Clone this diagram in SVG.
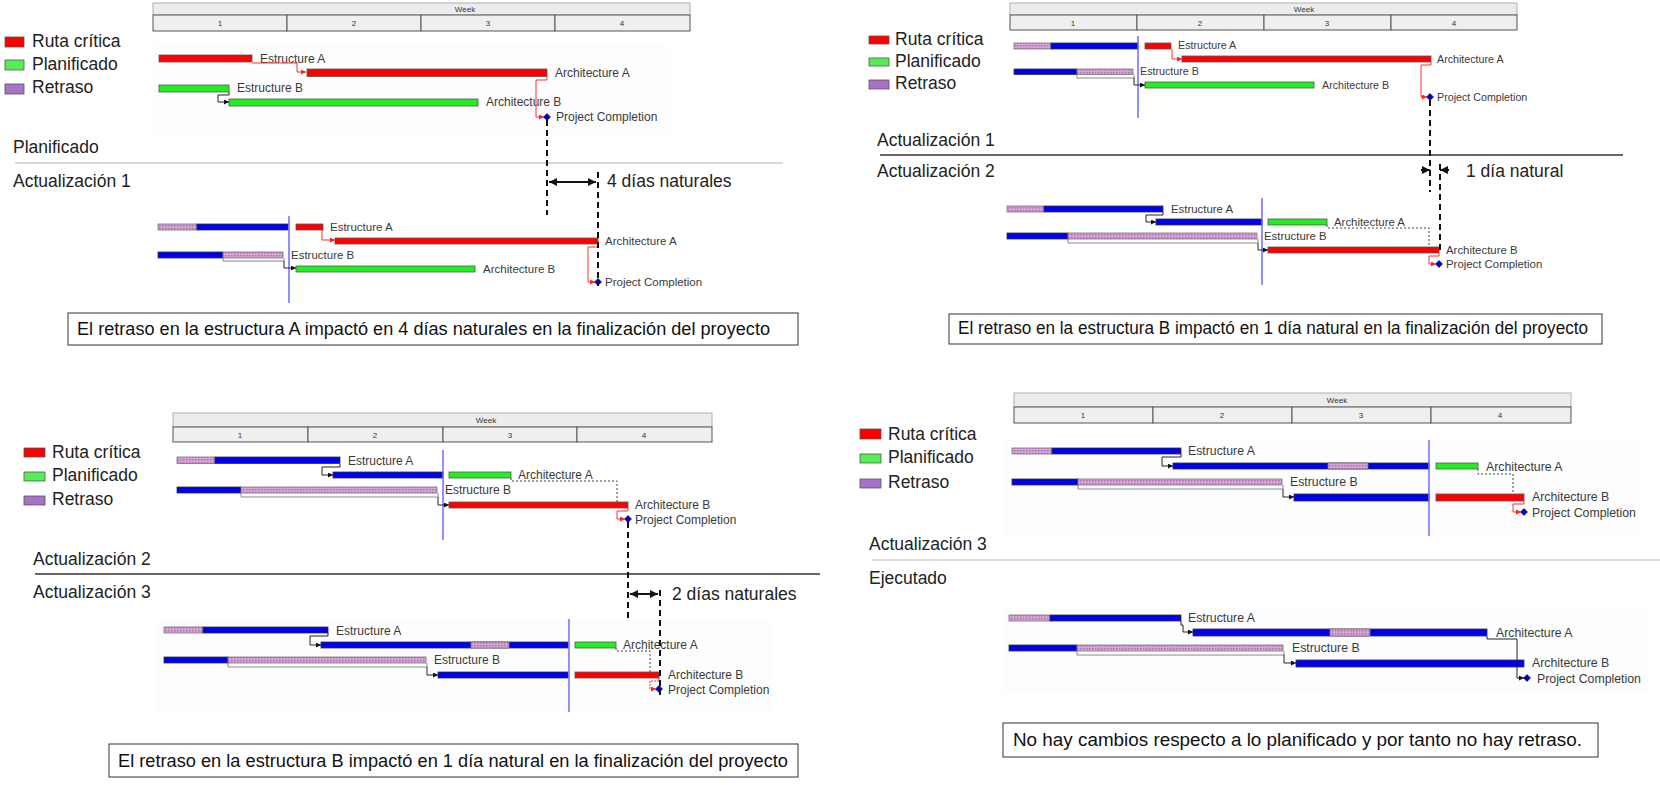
<svg xmlns="http://www.w3.org/2000/svg" width="1660" height="785" viewBox="0 0 1660 785">
<defs>
<style>
.band{fill:#ececec;stroke:#b0b0b0;stroke-width:1}
.cell{fill:#efefef;stroke:#555;stroke-width:1}
.ht{font-family:"Liberation Sans",Arial,sans-serif;font-size:8px;fill:#333;text-anchor:middle}
.br{fill:#ff0000;stroke:#555;stroke-width:0.8}
.bg{fill:#22ee22;stroke:#555;stroke-width:0.8}
.bb{fill:#0000ee;stroke:#333;stroke-width:0.8}
.bp{fill:url(#hatch);stroke:#777;stroke-width:0.8}
.ol{fill:none;stroke:#888;stroke-width:1}
.lbl{font-family:"Liberation Sans",Arial,sans-serif;fill:#3a3a3a}
.big{font-family:"Liberation Sans",Arial,sans-serif;font-size:17.5px;fill:#222}
.cap{font-family:"Liberation Sans",Arial,sans-serif;font-size:17.5px;fill:#111}
.capbox{fill:#fff;stroke:#333;stroke-width:1}
.lk{fill:none;stroke:#222;stroke-width:1}
.lr{fill:none;stroke:#ff3030;stroke-width:1}
.dot{fill:none;stroke:#444;stroke-width:1;stroke-dasharray:2,2}
.dash{stroke:#111;stroke-width:2;stroke-dasharray:6,4;fill:none}
.st{stroke:#6b6bff;stroke-width:1.5}
.ms{fill:#0000cc;stroke:#000033;stroke-width:0.6}
.panel{fill:#fdfdfd}
.sep{stroke:#333;stroke-width:1.5}
.sepl{stroke:#cccccc;stroke-width:1.5}
.dim{stroke:#111;stroke-width:2;fill:none}
</style>
<pattern id="hatch" width="3" height="3" patternUnits="userSpaceOnUse"><rect width="3" height="3" fill="#d9a3d9"/><rect width="1.5" height="1.5" fill="#b070b0"/></pattern>
<marker id="ak" viewBox="0 0 6 6" refX="6" refY="3" markerWidth="5" markerHeight="5" orient="auto" markerUnits="userSpaceOnUse"><path d="M0,0 L6,3 L0,6 z" fill="#111"/></marker>
<marker id="ar" viewBox="0 0 6 6" refX="6" refY="3" markerWidth="5" markerHeight="5" orient="auto" markerUnits="userSpaceOnUse"><path d="M0,0 L6,3 L0,6 z" fill="#ff2020"/></marker>
<marker id="ab" viewBox="0 0 8 8" refX="8" refY="4" markerWidth="8" markerHeight="8" orient="auto-start-reverse" markerUnits="userSpaceOnUse"><path d="M0,0 L8,4 L0,8 z" fill="#111"/></marker>
</defs>
<rect width="1660" height="785" fill="#ffffff"/>

<!-- ================= Q1 ================= -->
<g id="q1-header">
<rect class="band" x="153" y="3" width="537" height="12"/>
<text class="ht" x="465" y="12">Week</text>
<rect class="cell" x="153" y="15" width="134" height="16"/>
<rect class="cell" x="287" y="15" width="134" height="16"/>
<rect class="cell" x="421" y="15" width="134" height="16"/>
<rect class="cell" x="555" y="15" width="135" height="16"/>
<text class="ht" x="220" y="26">1</text><text class="ht" x="354" y="26">2</text><text class="ht" x="488" y="26">3</text><text class="ht" x="622" y="26">4</text>
</g>
<g id="q1-legend">
<rect class="br" x="5" y="37" width="19" height="10"/><text class="big" x="32" y="47">Ruta crítica</text>
<rect x="5" y="60" width="19" height="10" fill="#55ee55" stroke="#555" stroke-width="0.8"/><text class="big" x="32" y="70">Planificado</text>
<rect x="5" y="84" width="19" height="10" fill="#a673c9" stroke="#555" stroke-width="0.8"/><text class="big" x="32" y="93">Retraso</text>
</g>
<g id="q1-plan">
<rect class="panel" x="153" y="45" width="517" height="90"/>
<rect class="br" x="159" y="55" width="93" height="7"/>
<text class="lbl" x="260" y="63" font-size="12">Estructure A</text>
<rect class="br" x="307" y="69" width="240" height="7.5"/>
<text class="lbl" x="555" y="77" font-size="12">Architecture A</text>
<rect class="bg" x="159" y="85" width="70" height="7"/>
<text class="lbl" x="237" y="92" font-size="12">Estructure B</text>
<rect class="bg" x="229" y="99" width="249" height="7"/>
<text class="lbl" x="486" y="106" font-size="12">Architecture B</text>
<path class="ms" d="M547,113.5 L550.5,117 L547,120.5 L543.5,117 z"/>
<text class="lbl" x="556" y="121" font-size="12">Project Completion</text>
</g>
<g id="q1-titles">
<text class="big" x="13" y="153">Planificado</text>
<line class="sepl" x1="15" y1="163" x2="783" y2="163"/>
<text class="big" x="13" y="187">Actualización 1</text>
<text class="big" x="607" y="187" font-size="18">4 días naturales</text>
</g>
<g id="q1-upd1">
<rect class="bp" x="158" y="224" width="39" height="6"/>
<rect class="bb" x="197" y="224" width="91" height="6"/>
<rect class="br" x="296" y="224" width="27" height="6"/>
<text class="lbl" x="330" y="231" font-size="11.5">Estructure A</text>
<rect class="br" x="335" y="238" width="263" height="6"/>
<text class="lbl" x="605" y="245" font-size="11.5">Architecture A</text>
<rect class="bb" x="158" y="252" width="65" height="6"/>
<rect class="bp" x="223" y="252" width="60" height="6"/>
<path class="ol" d="M223,258 V261 H284 V258"/>
<text class="lbl" x="291" y="259" font-size="11.5">Estructure B</text>
<rect class="bg" x="296" y="266" width="179" height="6"/>
<text class="lbl" x="483" y="273" font-size="11.5">Architecture B</text>
<path class="ms" d="M598,278.5 L601.5,282 L598,285.5 L594.5,282 z"/>
<text class="lbl" x="605" y="286" font-size="11.5">Project Completion</text>
<line class="st" x1="289" y1="216" x2="289" y2="303"/>
</g>
<g id="q1-caption">
<rect class="capbox" x="68" y="313" width="730" height="32"/>
<text class="cap" x="77" y="335" textLength="693" lengthAdjust="spacingAndGlyphs">El retraso en la estructura A impactó en 4 días naturales en la finalización del proyecto</text>
</g>

<!-- ================= Q2 ================= -->
<g id="q2-header">
<rect class="band" x="1010" y="3" width="507" height="12"/>
<text class="ht" x="1304" y="12">Week</text>
<rect class="cell" x="1010" y="15" width="127" height="15"/>
<rect class="cell" x="1137" y="15" width="127" height="15"/>
<rect class="cell" x="1264" y="15" width="127" height="15"/>
<rect class="cell" x="1391" y="15" width="126" height="15"/>
<text class="ht" x="1073" y="26">1</text><text class="ht" x="1200" y="26">2</text><text class="ht" x="1327" y="26">3</text><text class="ht" x="1454" y="26">4</text>
</g>
<g id="q2-legend">
<rect class="br" x="869" y="36" width="20" height="8"/><text class="big" x="895" y="45">Ruta crítica</text>
<rect x="869" y="58" width="20" height="8" fill="#55ee55" stroke="#555" stroke-width="0.8"/><text class="big" x="895" y="67">Planificado</text>
<rect x="869" y="80" width="20" height="9" fill="#a673c9" stroke="#555" stroke-width="0.8"/><text class="big" x="895" y="89">Retraso</text>
</g>
<g id="q2-upd1">
<rect class="bp" x="1014" y="43" width="37" height="6"/>
<rect class="bb" x="1051" y="43" width="87" height="6"/>
<rect class="br" x="1145" y="43" width="26" height="6"/>
<text class="lbl" x="1178" y="49" font-size="10.7">Estructure A</text>
<rect class="br" x="1182" y="56" width="249" height="6"/>
<text class="lbl" x="1437" y="63" font-size="10.7">Architecture A</text>
<rect class="bb" x="1014" y="69" width="63" height="5.5"/>
<rect class="bp" x="1077" y="69" width="56" height="5.5"/>
<path class="ol" d="M1077,74.5 V78 H1134 V74.5"/>
<text class="lbl" x="1140" y="75" font-size="10.7">Estructure B</text>
<rect class="bg" x="1145" y="82" width="169" height="6"/>
<text class="lbl" x="1322" y="89" font-size="10.7">Architecture B</text>
<path class="ms" d="M1430,93.5 L1433.5,97 L1430,100.5 L1426.5,97 z"/>
<text class="lbl" x="1437" y="101" font-size="10.7">Project Completion</text>
<line class="st" x1="1138" y1="36" x2="1138" y2="118"/>
</g>
<g id="q2-titles">
<text class="big" x="877" y="146">Actualización 1</text>
<line class="sep" x1="880" y1="155" x2="1623" y2="155"/>
<text class="big" x="877" y="177">Actualización 2</text>
<text class="big" x="1466" y="177" font-size="18">1 día natural</text>
</g>
<g id="q2-upd2">
<rect class="bp" x="1007" y="206" width="37" height="6"/>
<rect class="bb" x="1044" y="206" width="119" height="6"/>
<text class="lbl" x="1171" y="213" font-size="11.4">Estructure A</text>
<rect class="bb" x="1156" y="219" width="106" height="6"/>
<rect class="bg" x="1268" y="219" width="59" height="6"/>
<text class="lbl" x="1334" y="226" font-size="11.4">Architecture A</text>
<rect class="bb" x="1007" y="233" width="61" height="6"/>
<rect class="bp" x="1068" y="233" width="189" height="6"/>
<path class="ol" d="M1068,239 V243 H1258 V239"/>
<text class="lbl" x="1264" y="240" font-size="11.4">Estructure B</text>
<rect class="br" x="1268" y="247" width="171" height="6"/>
<text class="lbl" x="1446" y="254" font-size="11.4">Architecture B</text>
<path class="ms" d="M1439,260.5 L1442.5,264 L1439,267.5 L1435.5,264 z"/>
<text class="lbl" x="1446" y="268" font-size="11.4">Project Completion</text>
<line class="st" x1="1262" y1="198" x2="1262" y2="285"/>
</g>
<g id="q2-caption">
<rect class="capbox" x="949" y="314" width="653" height="30"/>
<text class="cap" x="958" y="334" textLength="630" lengthAdjust="spacingAndGlyphs">El retraso en la estructura B impactó en 1 día natural en la finalización del proyecto</text>
</g>

<!-- ================= Q3 ================= -->
<g id="q3-header">
<rect class="band" x="173" y="413" width="539" height="14"/>
<text class="ht" x="486" y="423">Week</text>
<rect class="cell" x="173" y="427" width="135" height="15"/>
<rect class="cell" x="308" y="427" width="135" height="15"/>
<rect class="cell" x="443" y="427" width="134" height="15"/>
<rect class="cell" x="577" y="427" width="135" height="15"/>
<text class="ht" x="240" y="438">1</text><text class="ht" x="375" y="438">2</text><text class="ht" x="510" y="438">3</text><text class="ht" x="644" y="438">4</text>
</g>
<g id="q3-legend">
<rect class="br" x="24" y="448" width="21" height="9"/><text class="big" x="52" y="458">Ruta crítica</text>
<rect x="24" y="472" width="21" height="9" fill="#55ee55" stroke="#555" stroke-width="0.8"/><text class="big" x="52" y="481">Planificado</text>
<rect x="24" y="496" width="21" height="9" fill="#a673c9" stroke="#555" stroke-width="0.8"/><text class="big" x="52" y="505">Retraso</text>
</g>
<g id="q3-upd2">
<rect class="bp" x="177" y="457" width="38" height="6.5"/>
<rect class="bb" x="215" y="457" width="125" height="6.5"/>
<text class="lbl" x="348" y="465" font-size="12">Estructure A</text>
<rect class="bb" x="333" y="472" width="110" height="6"/>
<rect class="bg" x="449" y="472" width="62" height="6"/>
<text class="lbl" x="518" y="479" font-size="12">Architecture A</text>
<rect class="bb" x="177" y="487" width="64" height="6"/>
<rect class="bp" x="241" y="487" width="196" height="6"/>
<path class="ol" d="M241,493 V497 H438 V493"/>
<text class="lbl" x="445" y="494" font-size="12">Estructure B</text>
<rect class="br" x="449" y="502" width="179" height="6"/>
<text class="lbl" x="635" y="509" font-size="12">Architecture B</text>
<path class="ms" d="M628,515.5 L631.5,519 L628,522.5 L624.5,519 z"/>
<text class="lbl" x="635" y="524" font-size="12">Project Completion</text>
<line class="st" x1="443" y1="450" x2="443" y2="540"/>
</g>
<g id="q3-titles">
<text class="big" x="33" y="565">Actualización 2</text>
<line class="sep" x1="35" y1="574" x2="820" y2="574"/>
<text class="big" x="33" y="598">Actualización 3</text>
<text class="big" x="672" y="600" font-size="18">2 días naturales</text>
</g>
<g id="q3-upd3">
<rect class="panel" x="157" y="620" width="615" height="92"/>
<rect class="bp" x="164" y="627" width="39" height="6"/>
<rect class="bb" x="203" y="627" width="125" height="6"/>
<text class="lbl" x="336" y="635" font-size="12">Estructure A</text>
<rect class="bb" x="321" y="642" width="247" height="6"/>
<rect class="bp" x="471" y="642" width="38" height="6"/>
<rect class="bg" x="575" y="642" width="41" height="6"/>
<text class="lbl" x="623" y="649" font-size="12">Architecture A</text>
<rect class="bb" x="164" y="657" width="64" height="6"/>
<rect class="bp" x="228" y="657" width="198" height="6"/>
<path class="ol" d="M228,663 V667 H427 V663"/>
<text class="lbl" x="434" y="664" font-size="12">Estructure B</text>
<rect class="bb" x="438" y="672" width="130" height="6"/>
<rect class="br" x="575" y="672" width="84" height="6"/>
<text class="lbl" x="668" y="679" font-size="12">Architecture B</text>
<path class="ms" d="M659,685.5 L662.5,689 L659,692.5 L655.5,689 z"/>
<text class="lbl" x="668" y="694" font-size="12">Project Completion</text>
<line class="st" x1="569" y1="619" x2="569" y2="712"/>
</g>
<g id="q3-caption">
<rect class="capbox" x="109" y="744" width="689" height="33"/>
<text class="cap" x="118" y="767" textLength="670" lengthAdjust="spacingAndGlyphs">El retraso en la estructura B impactó en 1 día natural en la finalización del proyecto</text>
</g>

<!-- ================= Q4 ================= -->
<g id="q4-header">
<rect class="band" x="1014" y="393" width="557" height="14"/>
<text class="ht" x="1337" y="403">Week</text>
<rect class="cell" x="1014" y="407" width="139" height="16"/>
<rect class="cell" x="1153" y="407" width="139" height="16"/>
<rect class="cell" x="1292" y="407" width="139" height="16"/>
<rect class="cell" x="1431" y="407" width="140" height="16"/>
<text class="ht" x="1083" y="418">1</text><text class="ht" x="1222" y="418">2</text><text class="ht" x="1361" y="418">3</text><text class="ht" x="1500" y="418">4</text>
</g>
<g id="q4-legend">
<rect class="br" x="860" y="429" width="21" height="10"/><text class="big" x="888" y="440">Ruta crítica</text>
<rect x="860" y="454" width="21" height="9" fill="#55ee55" stroke="#555" stroke-width="0.8"/><text class="big" x="888" y="463">Planificado</text>
<rect x="860" y="479" width="21" height="9" fill="#a673c9" stroke="#555" stroke-width="0.8"/><text class="big" x="888" y="488">Retraso</text>
</g>
<g id="q4-upd3">
<rect class="panel" x="1005" y="440" width="637" height="95"/>
<rect class="bp" x="1012" y="448" width="40" height="6"/>
<rect class="bb" x="1052" y="448" width="129" height="6"/>
<text class="lbl" x="1188" y="455" font-size="12.3">Estructure A</text>
<rect class="bb" x="1173" y="463" width="256" height="6"/>
<rect class="bp" x="1328" y="463" width="40" height="6"/>
<rect class="bg" x="1436" y="463" width="42" height="6"/>
<text class="lbl" x="1486" y="471" font-size="12.3">Architecture A</text>
<rect class="bb" x="1012" y="479" width="66" height="6"/>
<rect class="bp" x="1078" y="479" width="204" height="6"/>
<path class="ol" d="M1078,485 V489 H1283 V485"/>
<text class="lbl" x="1290" y="486" font-size="12.3">Estructure B</text>
<rect class="bb" x="1294" y="494" width="135" height="7"/>
<rect class="br" x="1436" y="494" width="88" height="7"/>
<text class="lbl" x="1532" y="501" font-size="12.3">Architecture B</text>
<path class="ms" d="M1524,508.5 L1527.5,512 L1524,515.5 L1520.5,512 z"/>
<text class="lbl" x="1532" y="517" font-size="12.3">Project Completion</text>
<line class="st" x1="1429" y1="440" x2="1429" y2="536"/>
</g>
<g id="q4-titles">
<text class="big" x="869" y="550">Actualización 3</text>
<line class="sepl" x1="872" y1="560" x2="1660" y2="560"/>
<text class="big" x="869" y="584">Ejecutado</text>
</g>
<g id="q4-exec">
<rect class="panel" x="1004" y="608" width="644" height="85"/>
<rect class="bp" x="1009" y="615" width="41" height="6"/>
<rect class="bb" x="1050" y="615" width="131" height="6"/>
<text class="lbl" x="1188" y="622" font-size="12.3">Estructure A</text>
<rect class="bb" x="1193" y="629" width="294" height="7"/>
<rect class="bp" x="1330" y="629" width="40" height="7"/>
<text class="lbl" x="1496" y="637" font-size="12.3">Architecture A</text>
<rect class="bb" x="1009" y="645" width="68" height="6"/>
<rect class="bp" x="1077" y="645" width="206" height="6"/>
<path class="ol" d="M1077,651 V655 H1284 V651"/>
<text class="lbl" x="1292" y="652" font-size="12.3">Estructure B</text>
<rect class="bb" x="1296" y="660" width="228" height="7"/>
<text class="lbl" x="1532" y="667" font-size="12.3">Architecture B</text>
<path class="ms" d="M1527,674.5 L1530.5,678 L1527,681.5 L1523.5,678 z"/>
<text class="lbl" x="1537" y="683" font-size="12.3">Project Completion</text>
</g>
<g id="q4-caption">
<rect class="capbox" x="1003" y="723" width="595" height="34"/>
<text class="cap" x="1013" y="746" textLength="569" lengthAdjust="spacingAndGlyphs">No hay cambios respecto a lo planificado y por tanto no hay retraso.</text>
</g>

<!-- ================= connectors ================= -->
<g id="connectors">
<path class="lr" d="M252,63 H297 V72 H306" marker-end="url(#ar)"/>
<path class="lk" d="M229,92 V95 H218 V102 H229" marker-end="url(#ak)"/>
<path class="lr" d="M547,77 V80 H536 V117 H544" marker-end="url(#ar)"/>
<path class="lr" d="M322,230 V240 H335" marker-end="url(#ar)"/>
<path class="lk" d="M284,261 V268 H296" marker-end="url(#ak)"/>
<path class="lr" d="M598,244 V247 H588 V282 H595" marker-end="url(#ar)"/>
<path class="dash" d="M547,120 V215"/>
<path class="dash" d="M598,172 V286"/>
<path class="dim" d="M549,182 H596" marker-start="url(#ab)" marker-end="url(#ab)"/>
<path class="lr" d="M1172,49 V59 H1182" marker-end="url(#ar)"/>
<path class="lk" d="M1134,78 V85 H1145" marker-end="url(#ak)"/>
<path class="lr" d="M1431,62 V65 H1421 V97 H1427" marker-end="url(#ar)"/>
<path class="dash" d="M1430,100 V192"/>
<path class="dash" d="M1440,164 V250"/>
<path class="dim" d="M1421,170 H1430" marker-end="url(#ab)"/>
<path class="dim" d="M1449,170 H1440" marker-end="url(#ab)"/>
<path class="lk" d="M1163,212 V215 H1146 V222 H1156" marker-end="url(#ak)"/>
<path class="dot" d="M1327,225 V228 H1429 V250"/>
<path class="lk" d="M1258,243 V250 H1268" marker-end="url(#ak)"/>
<path class="lr" d="M1439,253 V256 H1429 V264 H1436" marker-end="url(#ar)"/>
<path class="lk" d="M340,464 V467 H322 V475 H333" marker-end="url(#ak)"/>
<path class="dot" d="M511,478 V481 H617 V502"/>
<path class="lk" d="M438,497 V505 H449" marker-end="url(#ak)"/>
<path class="lr" d="M628,508 V511 H617 V519 H625" marker-end="url(#ar)"/>
<path class="dash" d="M628,522 V620"/>
<path class="dash" d="M660,590 V695"/>
<path class="dim" d="M630,594 H658" marker-start="url(#ab)" marker-end="url(#ab)"/>
<path class="lk" d="M328,633 V636 H310 V645 H321" marker-end="url(#ak)"/>
<path class="dot" d="M616,648 V651 H650 V672"/>
<path class="lk" d="M427,667 V675 H438" marker-end="url(#ak)"/>
<path class="lr" d="M659,678 V681 H650 V689 H656" stroke-dasharray="2,1" marker-end="url(#ar)"/>
<path class="lk" d="M1181,454 V457 H1162 V466 H1173" marker-end="url(#ak)"/>
<path class="dot" d="M1478,469 V474 H1513 V494"/>
<path class="lk" d="M1283,489 V497 H1294" marker-end="url(#ak)"/>
<path class="lr" d="M1524,501 V504 H1513 V512 H1521" marker-end="url(#ar)"/>
<path class="lk" d="M1181,621 V625 H1183 V632 H1193" marker-end="url(#ak)"/>
<path class="lk" d="M1487,636 V639 H1517 V678 H1524" marker-end="url(#ak)"/>
<path class="lk" d="M1284,655 V663 H1296" marker-end="url(#ak)"/>
</g>
</svg>
